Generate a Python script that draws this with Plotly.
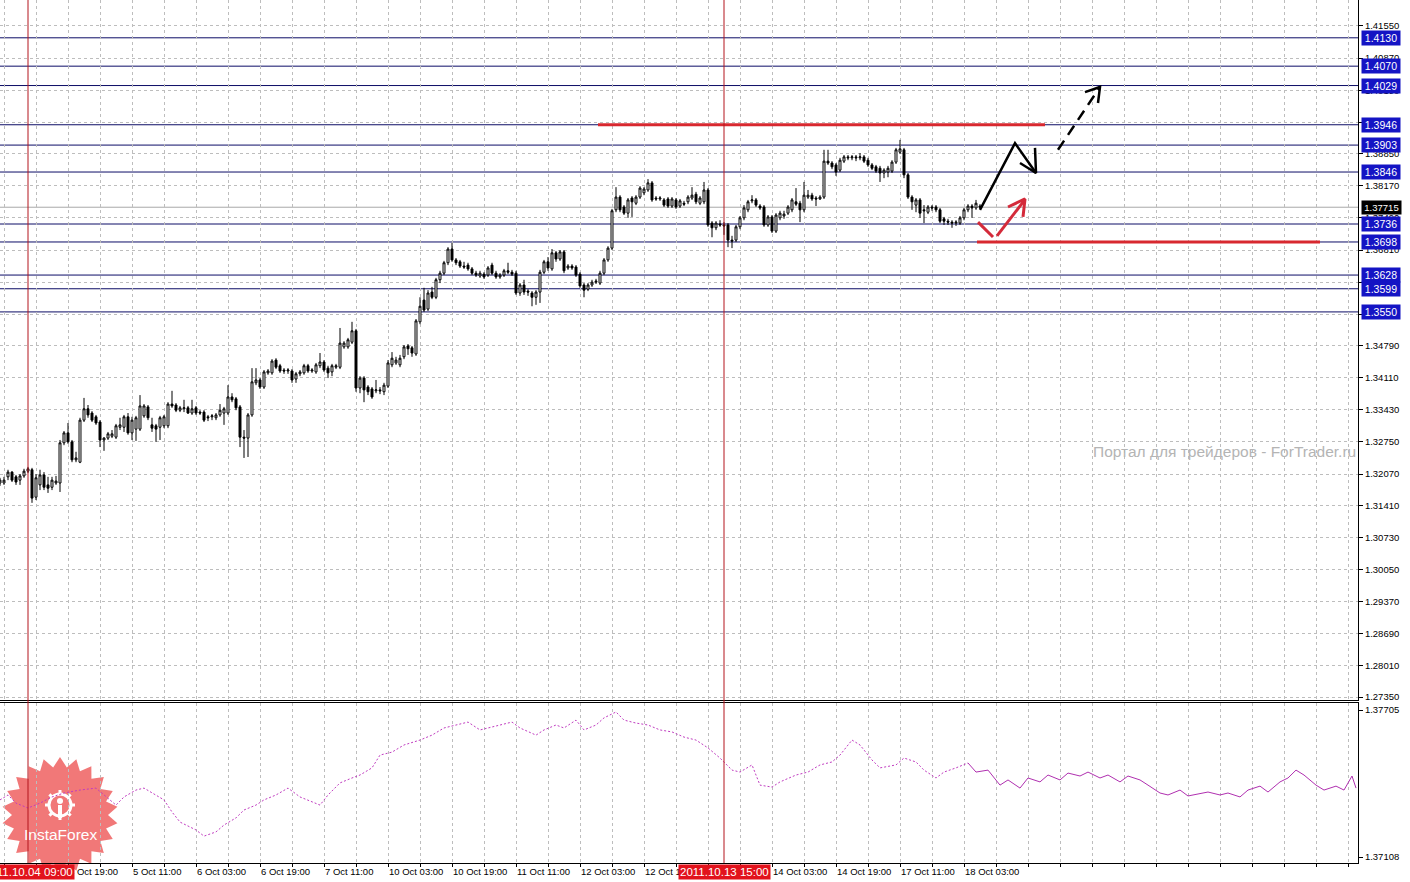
import math
import plotly.graph_objects as go

# ---------------- data (hourly bars, 4 Oct 02:00 .. 18 Oct 07:00) ----------------
OPEN = [
    1.3188,1.3188,1.3201,1.3211,1.3201,1.3194,1.3203,1.3213,1.3216,1.3158,
    1.3184,1.3205,1.3184,1.3179,1.3188,1.3188,1.3273,1.3294,1.3275,1.3237,
    1.3232,1.3321,1.3345,1.3336,1.3328,1.3317,1.3279,1.3283,1.3287,1.3285,
    1.3306,1.3306,1.3328,1.3294,1.3302,1.3302,1.3330,1.3349,1.3311,1.3309,
    1.3306,1.3309,1.3309,1.3355,1.3353,1.3342,1.3345,1.3347,1.3336,1.3347,
    1.3338,1.3338,1.3328,1.3328,1.3326,1.3332,1.3336,1.3336,1.3370,1.3366,
    1.3349,1.3285,1.3283,1.3332,1.3400,1.3406,1.3391,1.3421,1.3421,1.3448,
    1.3436,1.3427,1.3425,1.3425,1.3408,1.3419,1.3421,1.3436,1.3425,1.3423,
    1.3436,1.3444,1.3431,1.3423,1.3433,1.3433,1.3476,1.3476,1.3486,1.3510,
    1.3389,1.3410,1.3391,1.3387,1.3383,1.3385,1.3381,1.3393,1.3438,1.3442,
    1.3438,1.3455,1.3478,1.3474,1.3461,1.3529,1.3575,1.3556,1.3592,1.3581,
    1.3618,1.3632,1.3654,1.3683,1.3660,1.3656,1.3647,1.3649,1.3641,1.3632,
    1.3626,1.3630,1.3628,1.3649,1.3632,1.3624,1.3628,1.3637,1.3634,1.3632,
    1.3590,1.3607,1.3594,1.3590,1.3581,1.3592,1.3634,1.3656,1.3641,1.3675,
    1.3662,1.3677,1.3643,1.3647,1.3645,1.3630,1.3607,1.3598,1.3607,1.3613,
    1.3611,1.3632,1.3660,1.3685,1.3766,1.3793,1.3772,1.3759,1.3791,1.3780,
    1.3793,1.3802,1.3808,1.3823,1.3791,1.3789,1.3787,1.3789,1.3774,1.3787,
    1.3774,1.3780,1.3783,1.3791,1.3799,1.3780,1.3783,1.3808,1.3738,1.3728,
    1.3736,1.3734,1.3734,1.3702,1.3702,1.3730,1.3749,1.3766,1.3785,1.3787,
    1.3774,1.3772,1.3734,1.3751,1.3721,1.3749,1.3753,1.3759,1.3766,1.3783,
    1.3780,1.3766,1.3793,1.3797,1.3791,1.3789,1.3793,1.3869,1.3865,1.3861,
    1.3850,1.3869,1.3878,1.3876,1.3878,1.3876,1.3878,1.3871,1.3861,1.3857,
    1.3854,1.3844,1.3846,1.3848,1.3867,1.3888,1.3893,1.3840,1.3793,1.3776,
    1.3787,1.3766,1.3761,1.3772,1.3772,1.3766,1.3747,1.3742,1.3740,1.3738,
    1.3738,1.3749,1.3766,1.3774,1.3770,1.3774,
]
HIGH = [
    1.3199,1.3201,1.3216,1.3213,1.3205,1.3207,1.3218,1.3222,1.3220,1.3207,
    1.3216,1.3211,1.3201,1.3201,1.3203,1.3279,1.3298,1.3315,1.3279,1.3254,
    1.3326,1.3368,1.3353,1.3340,1.3332,1.3321,1.3285,1.3296,1.3300,1.3313,
    1.3326,1.3332,1.3336,1.3328,1.3330,1.3374,1.3355,1.3353,1.3326,1.3313,
    1.3330,1.3332,1.3359,1.3383,1.3357,1.3351,1.3364,1.3351,1.3364,1.3351,
    1.3342,1.3342,1.3332,1.3334,1.3336,1.3355,1.3349,1.3395,1.3378,1.3370,
    1.3353,1.3300,1.3336,1.3431,1.3431,1.3410,1.3427,1.3429,1.3450,1.3452,
    1.3440,1.3431,1.3431,1.3429,1.3423,1.3427,1.3440,1.3440,1.3431,1.3442,
    1.3463,1.3448,1.3436,1.3440,1.3440,1.3516,1.3488,1.3495,1.3529,1.3514,
    1.3414,1.3414,1.3395,1.3391,1.3406,1.3391,1.3400,1.3448,1.3465,1.3455,
    1.3459,1.3480,1.3482,1.3478,1.3535,1.3581,1.3601,1.3596,1.3603,1.3622,
    1.3637,1.3658,1.3687,1.3696,1.3664,1.3660,1.3656,1.3654,1.3645,1.3637,
    1.3637,1.3634,1.3647,1.3654,1.3637,1.3632,1.3641,1.3654,1.3639,1.3637,
    1.3611,1.3618,1.3598,1.3594,1.3596,1.3639,1.3660,1.3666,1.3683,1.3679,
    1.3681,1.3681,1.3651,1.3651,1.3649,1.3634,1.3611,1.3611,1.3618,1.3620,
    1.3637,1.3664,1.3689,1.3768,1.3814,1.3797,1.3776,1.3791,1.3795,1.3797,
    1.3816,1.3814,1.3831,1.3827,1.3795,1.3795,1.3791,1.3793,1.3793,1.3791,
    1.3789,1.3785,1.3797,1.3814,1.3804,1.3795,1.3825,1.3812,1.3742,1.3742,
    1.3744,1.3740,1.3738,1.3711,1.3734,1.3753,1.3776,1.3787,1.3797,1.3791,
    1.3778,1.3776,1.3755,1.3755,1.3759,1.3764,1.3764,1.3776,1.3791,1.3812,
    1.3785,1.3825,1.3808,1.3802,1.3795,1.3797,1.3893,1.3893,1.3869,1.3865,
    1.3876,1.3882,1.3882,1.3882,1.3882,1.3886,1.3882,1.3876,1.3865,1.3861,
    1.3859,1.3854,1.3859,1.3871,1.3897,1.3914,1.3897,1.3844,1.3797,1.3791,
    1.3791,1.3776,1.3776,1.3776,1.3776,1.3770,1.3751,1.3747,1.3744,1.3744,
    1.3753,1.3770,1.3778,1.3778,1.3787,1.3778,
]
LOW = [
    1.3182,1.3184,1.3194,1.3190,1.3184,1.3184,1.3199,1.3209,1.3146,1.3152,
    1.3173,1.3173,1.3167,1.3173,1.3184,1.3169,1.3268,1.3271,1.3232,1.3232,
    1.3230,1.3317,1.3326,1.3317,1.3311,1.3264,1.3256,1.3279,1.3283,1.3281,
    1.3300,1.3296,1.3290,1.3279,1.3277,1.3298,1.3326,1.3321,1.3296,1.3275,
    1.3279,1.3304,1.3304,1.3347,1.3338,1.3338,1.3338,1.3334,1.3332,1.3332,
    1.3332,1.3317,1.3319,1.3321,1.3321,1.3328,1.3311,1.3332,1.3359,1.3342,
    1.3264,1.3241,1.3243,1.3328,1.3395,1.3387,1.3387,1.3417,1.3417,1.3429,
    1.3421,1.3419,1.3419,1.3400,1.3400,1.3414,1.3417,1.3421,1.3421,1.3419,
    1.3431,1.3423,1.3410,1.3414,1.3429,1.3429,1.3472,1.3472,1.3482,1.3381,
    1.3378,1.3359,1.3374,1.3366,1.3378,1.3376,1.3374,1.3389,1.3433,1.3438,
    1.3433,1.3450,1.3459,1.3455,1.3457,1.3524,1.3550,1.3552,1.3577,1.3577,
    1.3611,1.3628,1.3649,1.3656,1.3649,1.3643,1.3641,1.3637,1.3628,1.3624,
    1.3622,1.3620,1.3624,1.3628,1.3620,1.3620,1.3624,1.3630,1.3626,1.3586,
    1.3584,1.3586,1.3584,1.3562,1.3565,1.3569,1.3630,1.3637,1.3637,1.3656,
    1.3658,1.3632,1.3639,1.3639,1.3624,1.3601,1.3581,1.3594,1.3603,1.3609,
    1.3607,1.3628,1.3656,1.3681,1.3761,1.3761,1.3755,1.3749,1.3751,1.3776,
    1.3789,1.3797,1.3804,1.3783,1.3785,1.3785,1.3772,1.3770,1.3770,1.3768,
    1.3770,1.3774,1.3778,1.3787,1.3778,1.3776,1.3778,1.3730,1.3708,1.3723,
    1.3730,1.3713,1.3687,1.3685,1.3698,1.3725,1.3744,1.3761,1.3780,1.3772,
    1.3766,1.3730,1.3730,1.3717,1.3717,1.3744,1.3747,1.3755,1.3761,1.3774,
    1.3740,1.3761,1.3789,1.3785,1.3774,1.3787,1.3789,1.3861,1.3852,1.3838,
    1.3846,1.3865,1.3871,1.3871,1.3869,1.3871,1.3865,1.3857,1.3850,1.3844,
    1.3825,1.3833,1.3835,1.3844,1.3863,1.3884,1.3833,1.3789,1.3766,1.3761,
    1.3749,1.3738,1.3757,1.3764,1.3761,1.3738,1.3734,1.3734,1.3728,1.3732,
    1.3734,1.3744,1.3761,1.3749,1.3766,1.3768,
]
CLOSE = [
    1.3194,1.3194,1.3211,1.3194,1.3190,1.3203,1.3213,1.3218,1.3156,1.3199,
    1.3205,1.3179,1.3177,1.3194,1.3192,1.3273,1.3294,1.3275,1.3237,1.3241,
    1.3321,1.3345,1.3332,1.3321,1.3315,1.3279,1.3283,1.3292,1.3292,1.3309,
    1.3311,1.3328,1.3294,1.3321,1.3326,1.3351,1.3351,1.3326,1.3304,1.3302,
    1.3326,1.3328,1.3355,1.3351,1.3342,1.3347,1.3347,1.3336,1.3345,1.3336,
    1.3336,1.3321,1.3326,1.3330,1.3332,1.3342,1.3345,1.3370,1.3364,1.3347,
    1.3285,1.3283,1.3332,1.3402,1.3406,1.3391,1.3423,1.3425,1.3446,1.3433,
    1.3425,1.3425,1.3427,1.3406,1.3419,1.3423,1.3436,1.3425,1.3427,1.3438,
    1.3444,1.3427,1.3421,1.3436,1.3436,1.3484,1.3484,1.3491,1.3510,1.3389,
    1.3410,1.3385,1.3381,1.3370,1.3385,1.3383,1.3395,1.3442,1.3452,1.3448,
    1.3452,1.3476,1.3472,1.3463,1.3531,1.3562,1.3554,1.3590,1.3581,1.3618,
    1.3632,1.3654,1.3683,1.3660,1.3654,1.3647,1.3645,1.3641,1.3632,1.3628,
    1.3632,1.3624,1.3643,1.3632,1.3624,1.3628,1.3637,1.3634,1.3630,1.3590,
    1.3607,1.3592,1.3592,1.3581,1.3592,1.3634,1.3656,1.3643,1.3675,1.3662,
    1.3677,1.3637,1.3647,1.3643,1.3628,1.3605,1.3596,1.3607,1.3613,1.3615,
    1.3632,1.3660,1.3685,1.3764,1.3793,1.3766,1.3759,1.3787,1.3783,1.3793,
    1.3812,1.3810,1.3823,1.3787,1.3789,1.3791,1.3776,1.3774,1.3789,1.3772,
    1.3785,1.3778,1.3793,1.3797,1.3783,1.3791,1.3808,1.3734,1.3728,1.3738,
    1.3734,1.3732,1.3702,1.3700,1.3730,1.3749,1.3770,1.3783,1.3787,1.3776,
    1.3770,1.3734,1.3751,1.3721,1.3755,1.3759,1.3757,1.3772,1.3787,1.3778,
    1.3766,1.3797,1.3797,1.3789,1.3789,1.3793,1.3869,1.3865,1.3857,1.3846,
    1.3871,1.3878,1.3876,1.3878,1.3876,1.3878,1.3869,1.3861,1.3854,1.3848,
    1.3844,1.3850,1.3854,1.3867,1.3893,1.3895,1.3840,1.3793,1.3783,1.3787,
    1.3759,1.3764,1.3772,1.3770,1.3766,1.3742,1.3742,1.3740,1.3738,1.3740,
    1.3749,1.3766,1.3774,1.3770,1.3780,1.37715,
]
BAR_IDX = list(range(len(CLOSE)))

# lower indicator window (dotted history + solid projection)
IND_DOT_IDX = [0,2,4,7,10,13,16,20,24,26,29,31,34,36,39,41,43,45,49,51,54,56,59,61,64,66,69,72,75,78,
               80,82,85,88,90,93,95,98,101,105,108,111,114,117,120,122,125,128,130,134,136,139,141,144,146,149,151,154,156,159,
               162,165,168,171,174,177,180,183,185,188,190,193,195,199,202,205,208,210,213,215,218,220,224,226,229,231,234,236,239,242]
IND_DOT_VAL = [1.37340,1.37360,1.37327,1.37307,1.37327,1.37352,1.37368,1.37380,1.37388,1.37360,
               1.37319,1.37352,1.37380,1.37388,1.37360,1.37340,1.37291,1.37250,1.37218,1.37193,
               1.37210,1.37238,1.37267,1.37299,1.37319,1.37340,1.37360,1.37388,1.37352,1.37331,
               1.37319,1.37360,1.37409,1.37429,1.37441,1.37470,1.37522,1.37534,1.37563,1.37583,
               1.37603,1.37632,1.37644,1.37656,1.37624,1.37632,1.37644,1.37656,1.37632,1.37603,
               1.37624,1.37644,1.37632,1.37664,1.37624,1.37644,1.37673,1.37697,1.37664,1.37652,
               1.37644,1.37624,1.37616,1.37595,1.37583,1.37551,1.37510,1.37461,1.37453,1.37482,
               1.37400,1.37392,1.37413,1.37441,1.37453,1.37482,1.37494,1.37522,1.37583,1.37563,
               1.37502,1.37470,1.37482,1.37510,1.37494,1.37461,1.37429,1.37453,1.37470,1.37490]
IND_SOLID_IDX = [242,244,247,250,252,255,257,260,262,265,267,270,272,275,277,280,282,285,287,290,
                 292,295,297,300,302,305,307,310,312,315,317,320,322,324,326,329,331,334,336,338,339]
IND_SOLID_VAL = [1.37490,1.37453,1.37461,1.37400,1.37421,1.37388,1.37429,1.37413,1.37441,1.37421,
                 1.37449,1.37437,1.37453,1.37429,1.37441,1.37413,1.37437,1.37421,1.37400,1.37368,
                 1.37360,1.37380,1.37356,1.37364,1.37372,1.37360,1.37368,1.37352,1.37380,1.37396,
                 1.37372,1.37413,1.37429,1.37461,1.37441,1.37400,1.37380,1.37396,1.37380,1.37437,1.37388]

# axes
PRICE_TICKS = [1.41550,1.40870,1.40190,1.39510,1.38850,1.38170,1.37490,1.36810,1.36130,1.35450,1.34790,
               1.34110,1.33430,1.32750,1.32070,1.31410,1.30730,1.30050,1.29370,1.28690,1.28010,1.27350]
IND_TICKS = [1.37705, 1.37108]
TIME_TICK_IDX = [1,17,33,49,65,81,97,113,129,145,161,177,193,209,225,241]
TIME_TICK_TEXT = ["4 Oct 03:00","4 Oct 19:00","5 Oct 11:00","6 Oct 03:00","6 Oct 19:00","7 Oct 11:00",
                  "10 Oct 03:00","10 Oct 19:00","11 Oct 11:00","12 Oct 03:00","12 Oct 19:00","13 Oct 11:00",
                  "14 Oct 03:00","14 Oct 19:00","17 Oct 11:00","18 Oct 03:00"]

# drawn objects
LEVELS = [1.4130,1.4070,1.4029,1.3946,1.3903,1.3846,1.3736,1.3698,1.3628,1.3599,1.3550]
BID = 1.37715
VLINE_IDX = [7, 181]
VLINE_TEXT = ["2011.10.04 09:00", "2011.10.13 15:00"]
RED_SEG_X0 = [149.5, 244.25]
RED_SEG_X1 = [261.25, 330.0]
RED_SEG_Y = [1.3946, 1.3698]
ARROW_SOLID_X = [245.0, 253.75, 259.0]
ARROW_SOLID_Y = [1.3766, 1.3907, 1.3844]
ARROW_SOLID_HEAD_X = [255.0, 259.0, 258.75]
ARROW_SOLID_HEAD_Y = [1.3865, 1.3844, 1.3897]
ARROW_DASH_X = [264.5, 275.0]
ARROW_DASH_Y = [1.3893, 1.4026]
ARROW_DASH_HEAD_X = [271.25, 275.0, 274.5]
ARROW_DASH_HEAD_Y = [1.4015, 1.4026, 1.3992]
RED_V_X = [244.5, 248.25]
RED_V_Y = [1.3740, 1.37085]
RED_UP_X = [249.25, 256.0]
RED_UP_Y = [1.3711, 1.3785]
RED_UP_HEAD_X = [252.0, 256.25, 255.75]
RED_UP_HEAD_Y = [1.3772, 1.3789, 1.3751]

# ---------------- layout constants ----------------
W, H = 1410, 882
PLOT_W, PLOT_H = 1358, 863
TOP_BOTTOM_PX = 700
BOT_TOP_PX = 703
FONT = "Liberation Sans"
GRID = "#bdbdbd"
DASH = "3px,3px"

fig = go.Figure()

fig.add_trace(go.Candlestick(
    x=BAR_IDX, open=OPEN, high=HIGH, low=LOW, close=CLOSE,
    increasing=dict(line=dict(color="black", width=1), fillcolor="white"),
    decreasing=dict(line=dict(color="black", width=1), fillcolor="black"),
    whiskerwidth=0, xaxis="x", yaxis="y", showlegend=False, hoverinfo="skip"))

fig.add_trace(go.Scatter(x=IND_DOT_IDX, y=IND_DOT_VAL, mode="lines", xaxis="x2", yaxis="y2",
                         line=dict(color="#c03cc0", width=1, dash="2px,2px"), showlegend=False, hoverinfo="skip"))
fig.add_trace(go.Scatter(x=IND_SOLID_IDX, y=IND_SOLID_VAL, mode="lines", xaxis="x2", yaxis="y2",
                         line=dict(color="#b030b0", width=1), showlegend=False, hoverinfo="skip"))

# hand-drawn arrows
def add_line(xs, ys, color, width, dash="solid"):
    fig.add_trace(go.Scatter(x=xs, y=ys, mode="lines", xaxis="x", yaxis="y",
                             line=dict(color=color, width=width, dash=dash),
                             showlegend=False, hoverinfo="skip"))

for x0, x1, yv in zip(RED_SEG_X0, RED_SEG_X1, RED_SEG_Y):
    add_line([x0, x1], [yv, yv], "#d8282f", 3)
add_line(ARROW_SOLID_X, ARROW_SOLID_Y, "black", 2.5)
add_line(ARROW_SOLID_HEAD_X, ARROW_SOLID_HEAD_Y, "black", 2.5)
add_line(ARROW_DASH_X, ARROW_DASH_Y, "black", 2.5, "11px,7px")
add_line(ARROW_DASH_HEAD_X, ARROW_DASH_HEAD_Y, "black", 2.5)
add_line(RED_V_X, RED_V_Y, "#d42a3a", 3)
add_line(RED_UP_X, RED_UP_Y, "#d42a3a", 3)
add_line(RED_UP_HEAD_X, RED_UP_HEAD_Y, "#d42a3a", 3)

shapes = []
for lv in LEVELS:
    shapes.append(dict(type="line", xref="paper", x0=0, x1=1, yref="y", y0=lv, y1=lv,
                       line=dict(color="#0c0c66", width=1), layer="between"))
shapes.append(dict(type="line", xref="paper", x0=0, x1=1, yref="y", y0=BID, y1=BID,
                   line=dict(color="#a8a8a8", width=1), layer="between"))
for vx in VLINE_IDX:
    shapes.append(dict(type="line", xref="x", x0=vx, x1=vx, yref="paper", y0=0, y1=1,
                       line=dict(color="#b3141c", width=1), layer="above"))

def paper(px, py):
    return px / PLOT_W, 1 - py / PLOT_H

# InstaForex badge
cx, cy, R1, R2, N = 60, 815, 58, 48, 22
pts = []
for k in range(2 * N):
    ang = math.pi * k / N - math.pi / 2
    rr = R1 if k % 2 == 0 else R2
    pts.append(paper(cx + rr * math.cos(ang), cy + rr * math.sin(ang)))
path = "M " + " L ".join(f"{a:.5f},{b:.5f}" for a, b in pts) + " Z"
shapes.append(dict(type="path", xref="paper", yref="paper", path=path,
                   fillcolor="rgba(238,96,96,0.85)", line=dict(width=0), layer="between"))
gx, gy, gr = 60, 805, 11
a0, b0 = paper(gx - gr, gy - gr)
a1, b1 = paper(gx + gr, gy + gr)
shapes.append(dict(type="circle", xref="paper", yref="paper", x0=a0, x1=a1, y0=b0, y1=b1,
                   line=dict(color="white", width=3), layer="between"))
for k in range(8):
    ang = 2 * math.pi * k / 8
    p0 = paper(gx + gr * math.cos(ang), gy + gr * math.sin(ang))
    p1 = paper(gx + (gr + 4) * math.cos(ang), gy + (gr + 4) * math.sin(ang))
    shapes.append(dict(type="line", xref="paper", yref="paper", x0=p0[0], y0=p0[1], x1=p1[0], y1=p1[1],
                       line=dict(color="white", width=3), layer="between"))
d0 = paper(gx - 3, gy - 7)
d1 = paper(gx + 3, gy - 1)
shapes.append(dict(type="circle", xref="paper", yref="paper", x0=d0[0], x1=d1[0], y0=d0[1], y1=d1[1],
                   fillcolor="white", line=dict(width=0), layer="between"))
s0 = paper(gx, gy)
s1 = paper(gx, gy + 13)
shapes.append(dict(type="line", xref="paper", yref="paper", x0=s0[0], y0=s0[1], x1=s1[0], y1=s1[1],
                   line=dict(color="white", width=4), layer="between"))

annotations = []
for lv in LEVELS:
    annotations.append(dict(xref="paper", x=1, xanchor="left", xshift=3, yref="y", y=lv, yanchor="middle",
                            text=f"{lv:.4f}", showarrow=False, bgcolor="#1414c4",
                            font=dict(family=FONT, size=10.5, color="white"),
                            width=36, height=12, borderpad=1))
annotations.append(dict(xref="paper", x=1, xanchor="left", xshift=3, yref="y", y=BID, yanchor="middle",
                        text=f"{BID:.5f}", showarrow=False, bgcolor="black",
                        font=dict(family=FONT, size=9.5, color="white"),
                        width=37, height=11, borderpad=1))
for vx, txt in zip(VLINE_IDX, VLINE_TEXT):
    annotations.append(dict(xref="x", x=vx, xanchor="center", yref="paper", y=1 - 872 / PLOT_H,
                            yanchor="middle", text=txt, showarrow=False, bgcolor="#e2121c",
                            font=dict(family=FONT, size=11.5, color="white"), borderpad=1))
wx, wy = paper(1091, 451)
annotations.append(dict(xref="paper", x=wx, xanchor="left", yref="paper", y=wy, yanchor="middle",
                        text="Портал для трейдеров - ForTrader.ru", showarrow=False,
                        font=dict(family=FONT, size=15.5, color="#b4b4b4")))
tx, ty = paper(60, 834)
annotations.append(dict(xref="paper", x=tx, xanchor="center", yref="paper", y=ty, yanchor="middle",
                        text="InstaForex", showarrow=False,
                        font=dict(family=FONT, size=15.5, color="white")))

grid_idx = list(range(1, 340, 8))
grid_text = []
for gi in grid_idx:
    grid_text.append(TIME_TICK_TEXT[TIME_TICK_IDX.index(gi)] if gi in TIME_TICK_IDX else "")

top_dom = [1 - TOP_BOTTOM_PX / PLOT_H, 1]
bot_dom = [0, 1 - BOT_TOP_PX / PLOT_H]
px_price = 0.0002116
top_range = [1.42100 - px_price * TOP_BOTTOM_PX, 1.42100]
px_ind = 0.0000406
bot_range = [1.37705 - px_ind * (PLOT_H - 710), 1.37705 + px_ind * (710 - BOT_TOP_PX)]

tickfont = dict(family=FONT, size=9.5, color="black")
fig.update_layout(
    width=W, height=H, margin=dict(l=0, r=W - PLOT_W, t=0, b=H - PLOT_H),
    paper_bgcolor="white", plot_bgcolor="white", showlegend=False,
    xaxis=dict(domain=[0, 1], anchor="y", range=[0, 339.5], tickmode="array", tickvals=grid_idx,
               showticklabels=False, ticks="", showgrid=True, gridcolor=GRID, griddash=DASH, gridwidth=1,
               showline=True, linecolor="black", linewidth=1, zeroline=False,
               rangeslider=dict(visible=False), automargin=False),
    xaxis2=dict(domain=[0, 1], anchor="y2", range=[0, 339.5], matches="x", tickmode="array",
                tickvals=grid_idx, ticktext=grid_text, ticks="outside", ticklen=3, tickcolor="black",
                ticklabelposition="outside right", tickfont=tickfont,
                showgrid=True, gridcolor=GRID, griddash=DASH, gridwidth=1,
                showline=True, mirror=True, linecolor="black", linewidth=1, zeroline=False, automargin=False),
    yaxis=dict(domain=top_dom, anchor="x", side="right", range=top_range, tickmode="array",
               tickvals=PRICE_TICKS, ticktext=[f"{v:.5f}" for v in PRICE_TICKS],
               ticks="outside", ticklen=4, tickcolor="black", tickfont=tickfont,
               showgrid=True, gridcolor=GRID, griddash=DASH, gridwidth=1,
               showline=True, linecolor="black", linewidth=1, zeroline=False, automargin=False),
    yaxis2=dict(domain=bot_dom, anchor="x2", side="right", range=bot_range, tickmode="array",
                tickvals=IND_TICKS, ticktext=[f"{v:.5f}" for v in IND_TICKS],
                ticks="outside", ticklen=4, tickcolor="black", tickfont=tickfont,
                showgrid=False, showline=True, linecolor="black", linewidth=1, zeroline=False,
                automargin=False),
    shapes=shapes, annotations=annotations,
)

fig.write_html("out.html", config={"displayModeBar": False},
               post_script="document.body.style.margin='0';document.body.style.overflow='hidden';")
